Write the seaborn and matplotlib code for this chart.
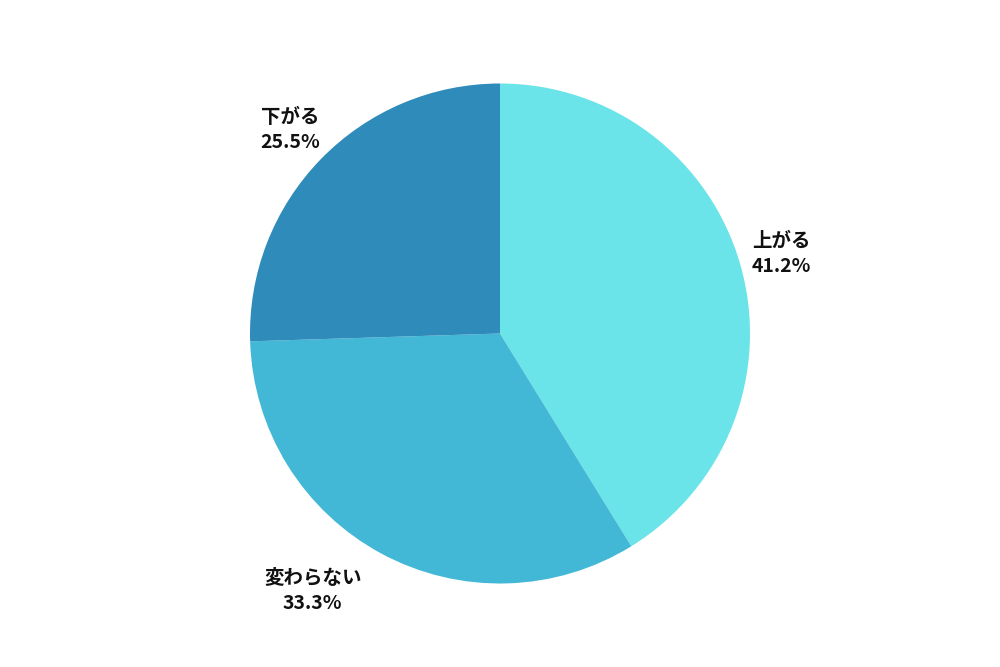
import matplotlib
matplotlib.use('Agg')
import matplotlib.pyplot as plt
import seaborn as sns

# data
labels = ['上がる', '変わらない', '下がる']
values = [41.2, 33.3, 25.5]
colors = ['#6ae4e8', '#43b8d6', '#2e8bba']

sns.set_style('white')
plt.rcParams['font.family'] = ['Noto Sans CJK JP', 'DejaVu Sans']

fig = plt.figure(figsize=(10, 6.67), dpi=100)
ax = fig.add_axes([0, 0, 1, 1])

wedges, texts = ax.pie(
    values,
    labels=[f'{l}\n{v}%' for l, v in zip(labels, values)],
    colors=colors,
    startangle=90,
    counterclock=False,
    labeldistance=1.17,
    wedgeprops=dict(linewidth=0),
    textprops=dict(fontsize=14, fontweight='bold', color='#111111',
                   ha='center', va='center', linespacing=1.4),
)
texts[1].set_ha('right')
for t in texts:
    t.set_multialignment('center')

ax.set_aspect('equal')
ax.set_xlim(-2, 2)
ax.set_ylim(-1.334, 1.334)
ax.axis('off')

plt.savefig('out.png', dpi=100)
